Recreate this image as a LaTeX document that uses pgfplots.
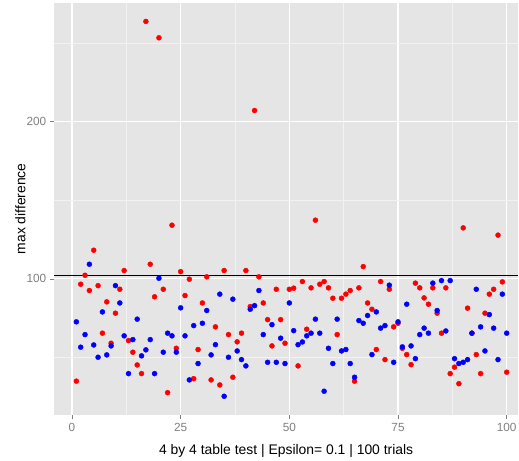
\documentclass[border=0pt]{standalone}
\usepackage{pgfplots}
\pgfplotsset{compat=1.18}
\usepackage{pgfplotstable}
\usepackage{fontspec}
\setmainfont{Liberation Sans}
\definecolor{panelbg}{HTML}{E5E5E5}
\definecolor{minorgrid}{HTML}{F2F2F2}
\definecolor{ticktxt}{HTML}{7F7F7F}

\pgfplotstableread{
x y
1 35.0
2 96.6
3 102.3
4 92.6
5 118.2
6 95.7
7 65.5
8 85.4
9 59.1
10 78.2
11 93.4
12 105.3
13 60.8
14 53.4
15 45.3
16 39.8
17 263.6
18 109.3
19 88.6
20 253.2
21 93.4
22 27.7
23 134.1
24 55.9
25 104.6
26 89.4
27 99.8
28 36.6
29 55.1
30 84.7
31 101.3
32 35.8
33 69.5
34 32.6
35 105.3
36 64.6
37 37.5
38 60.0
39 65.5
40 105.3
41 82.4
42 207.0
43 101.3
44 84.7
45 74.1
46 57.4
47 93.4
48 74.1
49 59.1
50 93.4
51 94.1
52 44.7
53 98.3
54 68.0
55 94.3
56 137.3
57 96.6
58 98.3
59 94.3
60 87.7
61 64.6
62 87.7
63 90.3
64 92.6
65 35.0
66 94.3
67 107.8
68 84.7
69 80.7
70 55.1
71 98.3
72 48.7
73 93.4
74 69.5
75 71.8
76 55.9
77 51.9
78 45.5
79 97.3
80 94.3
81 87.9
82 83.9
83 94.3
84 78.2
85 65.5
86 94.3
87 39.8
88 43.9
89 33.4
90 132.4
91 81.4
92 65.5
93 51.9
94 39.8
95 78.2
96 90.3
97 93.4
98 127.8
99 98.1
100 40.7
}\reddata

\pgfplotstableread{
x y
1 72.7
2 56.6
3 64.6
4 109.3
5 58.0
6 50.2
7 79.0
8 51.7
9 57.4
10 95.7
11 84.7
12 63.8
13 39.8
14 61.4
15 74.4
16 51.1
17 54.9
18 61.4
19 39.8
20 100.4
21 53.4
22 65.5
23 63.8
24 53.4
25 81.6
26 63.8
27 35.8
28 70.3
29 46.2
30 71.8
31 79.9
32 51.7
33 58.2
34 90.3
35 25.4
36 50.2
37 87.1
38 54.2
39 48.7
40 44.7
41 80.7
42 83.0
43 92.6
44 64.6
45 47.0
46 70.9
47 47.0
48 62.3
49 46.2
50 84.7
51 67.1
52 58.2
53 59.9
54 63.8
55 65.5
56 74.4
57 65.5
58 28.6
59 55.9
60 46.2
61 74.4
62 54.2
63 55.1
64 46.2
65 37.5
66 73.5
67 71.8
68 76.7
69 51.9
70 79.0
71 68.7
72 70.3
73 96.0
74 47.0
75 72.7
76 56.8
77 83.9
78 57.4
79 49.3
80 64.6
81 68.7
82 65.5
83 97.3
84 79.9
85 98.9
86 66.9
87 98.9
88 49.3
89 46.2
90 47.0
91 48.7
92 65.5
93 93.4
94 69.5
95 54.2
96 77.3
97 68.7
98 48.7
99 90.3
100 65.5
}\bluedata

\begin{document}
\begin{tikzpicture}
\begin{axis}[
  name=ax,
  scale only axis,
  width=463.7bp, height=412.3bp,
  xmin=-4.07, xmax=102.6,
  ymin=13.5, ymax=275.5,
  xtick={0,25,50,75,100},
  ytick={100,200},
  minor xtick={12.5,37.5,62.5,87.5},
  minor ytick={50,150,250},
  grid=both,
  major grid style={white, line width=1.1bp},
  minor grid style={minorgrid, line width=0.6bp},
  axis background/.style={fill=panelbg},
  axis line style={draw=none},
  tick align=outside,
  xtick pos=bottom, ytick pos=left,
  major tick length=4bp,
  minor tick length=0pt,
  tick style={ticktxt, line width=0.6bp},
  /pgf/number format/assume math mode=true,
  ticklabel style={font=\fontsize{11.8bp}{13bp}\selectfont, text=ticktxt},
  xticklabel style={yshift=-1bp},
  yticklabel style={xshift=-0.5bp},
  xlabel={4 by 4 table test | Epsilon= 0.1 | 100 trials},
  ylabel={max difference},
  every axis x label/.style={at={(axis description cs:0.5,-0.0947)}, anchor=base, font=\fontsize{13.9bp}{16bp}\selectfont, text=black},
  every axis y label/.style={at={(axis description cs:-0.0733,0.5)}, anchor=center, rotate=90, font=\fontsize{13.9bp}{16bp}\selectfont, text=black},
  clip=false,
]
\addplot[only marks, mark=*, mark size=2.5bp, draw=red, fill=red] table[x=x,y=y] {\reddata};
\addplot[only marks, mark=*, mark size=2.5bp, draw=blue, fill=blue] table[x=x,y=y] {\bluedata};
\addplot[black, line width=1.1bp, no marks] coordinates {(-4.07,101.9) (102.6,101.9)};
\end{axis}
\pgfresetboundingbox
\path[use as bounding box] ([xshift=-54.3bp,yshift=-46bp]ax.south west) rectangle ([xshift=1bp,yshift=2.7bp]ax.north east);
\end{tikzpicture}
\end{document}
